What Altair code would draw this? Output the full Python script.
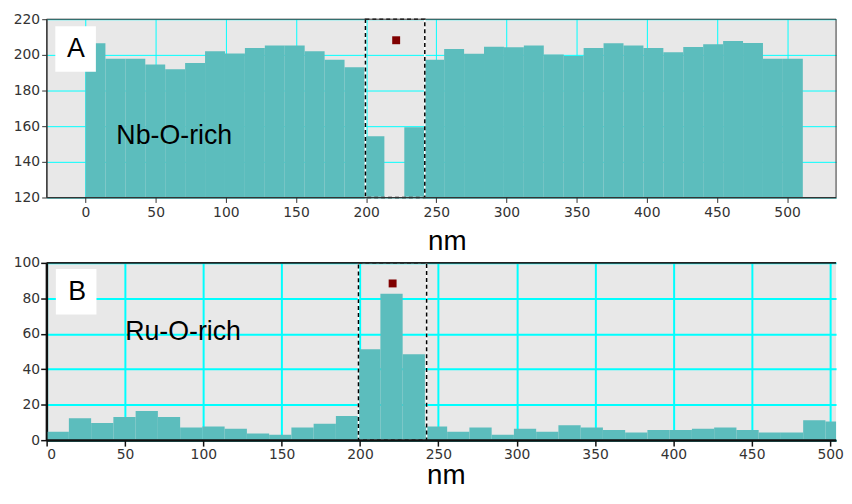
import altair as alt
import pandas as pd

# ---------------- data ----------------
bin_width = 14.2
nm_ticks = [0, 50, 100, 150, 200, 250, 300, 350, 400, 450, 500]
a_yticks = [120, 140, 160, 180, 200, 220]
b_yticks = [0, 20, 40, 60, 80, 100]

# Panel A (Nb-O-rich) counts per bin; None = below the axis floor (empty bin)
a_values = [206.5, 197.8, 197.8, 194.6, 192.0, 195.4, 202.0, 200.7, 203.9, 205.2,
            205.2, 202.0, 197.2, 193.1, 154.3, None, 159.4, 197.2, 203.3, 200.6,
            204.6, 204.3, 205.2, 200.2, 199.3, 203.9, 206.5, 205.2, 203.9, 201.5,
            204.4, 205.9, 207.8, 206.7, 197.8, 197.8]
# Panel B (Ru-O-rich)
b_values = [4.7, 12.3, 9.7, 13.1, 16.4, 13.1, 7.1, 7.7, 6.4, 3.8,
            3.0, 7.1, 9.3, 13.6, 51.3, 82.6, 48.5, 7.7, 4.7, 7.1,
            3.0, 6.5, 4.7, 8.4, 7.1, 5.8, 4.3, 5.8, 5.8, 6.5,
            7.1, 5.8, 4.3, 4.3, 11.2, 10.5]

a_domain_x = [-27.7, 534.9]
a_domain_y = [120, 220]
b_domain_x = [0, 503.8]
b_domain_y = [0, 100]

a_marker = {"x": [221.4], "y": [208.2]}
b_marker = {"x": [220.8], "y": [88.4]}
a_box = {"x0": [199.5], "x1": [241.8], "y0": [120], "y1": [220]}
b_box = {"x0": [199.0], "x1": [242.5], "y0": [0], "y1": [100]}

a_label_box = {"x0": [-21.5], "x1": [7.4], "y0": [190.6], "y1": [216.1]}
a_letter = {"x": [-6.8], "y": [203.3], "t": ["A"]}
a_name = {"x": [22.0], "y": [150.0], "t": ["Nb-O-rich"]}
b_label_box = {"x0": [5.9], "x1": [31.8], "y0": [70.9], "y1": [96.6]}
b_letter = {"x": [19.5], "y": [83.5], "t": ["B"]}
b_name = {"x": [50.1], "y": [56.5], "t": ["Ru-O-rich"]}

TEAL = "#5cbdbd"
CYAN = "#00ffff"
DARKRED = "#800000"
BG = "#e8e8e8"


def bars_df(values):
    rows = []
    for i, v in enumerate(values):
        if v is None:
            continue
        rows.append({"start": i * bin_width, "end": (i + 1) * bin_width, "value": v})
    return pd.DataFrame(rows)


common_axis = dict(
    labelFont="DejaVu Sans", labelFontSize=14, labelColor="#333333",
    titleFont="Liberation Sans", titleFontSize=28, titleFontWeight="normal",
    titleColor="black", gridColor=CYAN, labelOverlap=False,
)


def panel(values, dom_x, dom_y, yticks, marker, box, lbox, letter, name,
          width, height, style):
    xs = alt.Scale(domain=dom_x, nice=False, zero=False)
    ys = alt.Scale(domain=dom_y, nice=False, zero=False)
    if style == "A":
        xaxis = alt.Axis(values=nm_ticks, title="nm", grid=True, gridWidth=1,
                         tickSize=5, tickColor="#333333", domainColor="#333333",
                         labelPadding=3, titlePadding=8, titleX=404,
                         **common_axis)
        yaxis = alt.Axis(values=yticks, title=None, grid=True, gridWidth=1,
                         tickSize=5, tickColor="#333333", domainColor="#333333",
                         labelPadding=2, **common_axis)
    else:
        xaxis = alt.Axis(values=nm_ticks, title="nm", grid=True, gridWidth=2,
                         tickSize=6, tickColor="#111111", tickWidth=1.5,
                         domainColor="#111111", domainWidth=2, labelFlush=True,
                         labelPadding=2, titlePadding=0, titleX=403,
                         **common_axis)
        yaxis = alt.Axis(values=yticks, title=None, grid=True, gridWidth=2,
                         tickSize=6, tickColor="#111111", tickWidth=1.5,
                         domainColor="#111111", domainWidth=2,
                         labelPadding=1, **common_axis)

    def X(f):
        return alt.X(f, scale=xs, axis=xaxis)

    def Y(f):
        return alt.Y(f, scale=ys, axis=yaxis)

    bars = alt.Chart(bars_df(values)).mark_rect(color=TEAL, clip=True).encode(
        x=X("start:Q"), x2="end:Q", y=Y("value:Q"), y2=alt.datum(dom_y[0]),
    )

    bdf = pd.DataFrame(box)
    box_white = alt.Chart(bdf).mark_rect(filled=False, stroke="white", strokeWidth=1.5).encode(
        x=X("x0:Q"), x2="x1:Q", y=Y("y1:Q"), y2="y0:Q")
    box_black = alt.Chart(bdf).mark_rect(filled=False, stroke="black", strokeWidth=1.5,
                                         strokeDash=[4, 3]).encode(
        x=X("x0:Q"), x2="x1:Q", y=Y("y1:Q"), y2="y0:Q")

    mk = alt.Chart(pd.DataFrame(marker)).mark_square(size=64, color=DARKRED, opacity=1).encode(
        x=X("x:Q"), y=Y("y:Q"))

    lb = alt.Chart(pd.DataFrame(lbox)).mark_rect(color="white").encode(
        x=X("x0:Q"), x2="x1:Q", y=Y("y1:Q"), y2="y0:Q")
    lt = alt.Chart(pd.DataFrame(letter)).mark_text(
        font="Liberation Sans", fontSize=27, color="black", align="center", baseline="middle"
    ).encode(x=X("x:Q"), y=Y("y:Q"), text="t:N")
    nt = alt.Chart(pd.DataFrame(name)).mark_text(
        font="Liberation Sans", fontSize=27, color="black", align="left", baseline="alphabetic"
    ).encode(x=X("x:Q"), y=Y("y:Q"), text="t:N")

    frame_df = pd.DataFrame({"x0": [dom_x[0]], "x1": [dom_x[1]],
                             "y0": [dom_y[0]], "y1": [dom_y[1]]})
    if style == "A":
        frame = alt.Chart(frame_df).mark_rect(filled=False, stroke="#333333",
                                              strokeWidth=1).encode(
            x=X("x0:Q"), x2="x1:Q", y=Y("y1:Q"), y2="y0:Q")
        layers = [bars, box_white, box_black, mk, lb, lt, nt, frame]
    else:
        top = alt.Chart(frame_df).mark_rule(color="#222222", strokeWidth=2).encode(
            x=X("x0:Q"), x2="x1:Q", y=Y("y1:Q"))
        left = alt.Chart(frame_df).mark_rule(color="#111111", strokeWidth=2).encode(
            x=X("x0:Q"), y=Y("y0:Q"), y2="y1:Q")
        bottom = alt.Chart(frame_df).mark_rule(color="#111111", strokeWidth=2).encode(
            x=X("x0:Q"), x2="x1:Q", y=Y("y0:Q"))
        layers = [bars, box_white, box_black, mk, lb, lt, nt, top, left, bottom]

    return alt.layer(*layers).properties(width=width, height=height)


panel_a = panel(a_values, a_domain_x, a_domain_y, a_yticks, a_marker, a_box,
                a_label_box, a_letter, a_name, 797, 180, "A")
panel_b = panel(b_values, b_domain_x, b_domain_y, b_yticks, b_marker, b_box,
                b_label_box, b_letter, b_name, 797, 179, "B")

chart = alt.vconcat(panel_a, panel_b, spacing=1).resolve_scale(
    x="independent", y="independent"
).properties(
    padding={"left": 5, "top": 2, "right": 0, "bottom": 0},
    background="white",
).configure_view(fill=BG, stroke=None)

chart.save("out.html", embed_options={"renderer": "svg", "actions": False})
